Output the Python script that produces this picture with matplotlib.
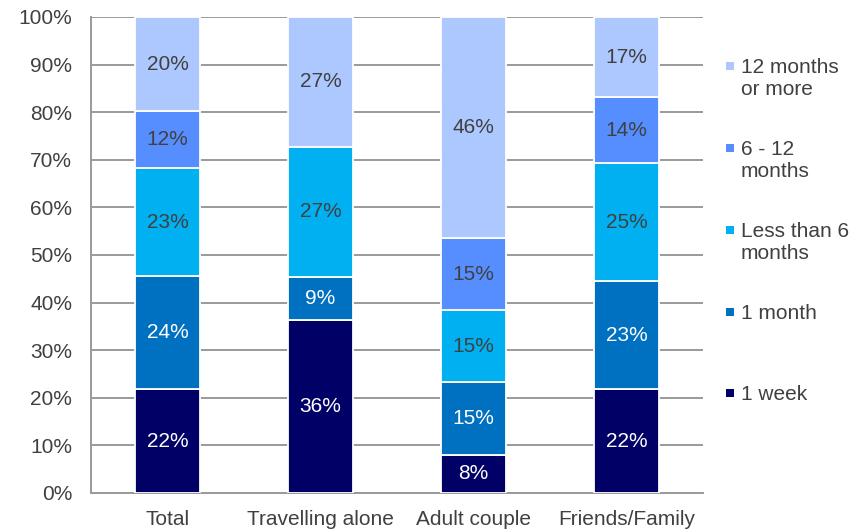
import matplotlib
matplotlib.use("Agg")
import matplotlib.pyplot as plt
from matplotlib.patches import Rectangle
import numpy as np

plt.rcParams['font.family'] = ['Liberation Sans', 'DejaVu Sans']

categories = ["Total", "Travelling alone", "Adult couple", "Friends/Family"]
series_names = ["1 week", "1 month", "Less than 6 months", "6 - 12 months", "12 months or more"]
legend_labels = ["1 week", "1 month", "Less than 6\nmonths", "6 - 12\nmonths", "12 months\nor more"]
week1 = [22, 36, 8, 22]
month1 = [24, 9, 15, 23]
less6 = [23, 27, 15, 25]
m6_12 = [12, 0, 15, 14]
m12plus = [20, 27, 46, 17]

colors = ["#000066", "#0070C0", "#00B0F0", "#578EFF", "#ADC8FF"]
text_colors = ["white", "white", "#404040", "#404040", "#404040"]

data = np.array([week1, month1, less6, m6_12, m12plus], dtype=float)
totals = data.sum(axis=0)
shares = data / totals * 100

FS = 15
W, H = 863, 531
fig = plt.figure(figsize=(W / 100, H / 100), dpi=100)
ax = fig.add_axes([91 / W, 1 - 493 / H, (703 - 91) / W, (493 - 17) / H])

x = np.arange(len(categories))
bottom = np.zeros(len(categories))
for i in range(len(series_names)):
    ax.bar(x, shares[i], bottom=bottom, width=0.42, color=colors[i],
           edgecolor="white", linewidth=1.3, zorder=3)
    for j in range(len(categories)):
        if data[i, j] > 0:
            ax.text(x[j], bottom[j] + shares[i, j] / 2, f"{int(data[i, j])}%",
                    ha="center", va="center", fontsize=FS, color=text_colors[i], zorder=4)
    bottom += shares[i]

ax.set_xlim(-0.5, 3.5)
ax.set_ylim(0, 100)
ax.set_yticks(np.arange(0, 101, 10))
ax.set_yticklabels([f"{v}%" for v in range(0, 101, 10)])
ax.set_xticks(x)
ax.set_xticklabels(categories)
ax.tick_params(axis="both", length=0, labelsize=FS, colors="#404040")
ax.tick_params(axis="y", pad=13.5)
ax.tick_params(axis="x", pad=12)
ax.grid(axis="y", color="#9a9a9a", linewidth=1.4, zorder=0)
ax.set_axisbelow(True)
for s in ["top", "right"]:
    ax.spines[s].set_visible(False)
for s in ["left", "bottom"]:
    ax.spines[s].set_color("#9a9a9a")
    ax.spines[s].set_linewidth(1.4)

# manual legend (reverse order, top to bottom)
tops = [66, 148, 230, 312, 393]
order = list(range(len(series_names)))[::-1]
for k, i in enumerate(order):
    yc = tops[k]
    fig.patches.append(Rectangle((726 / W, 1 - (yc + 4) / H), 8 / W, 8 / H,
                                 transform=fig.transFigure, facecolor=colors[i],
                                 edgecolor="none"))
    fig.text(741 / W, 1 - (yc - 8) / H, legend_labels[i], ha="left", va="top",
             fontsize=FS, color="#404040", linespacing=1.2)

fig.savefig("out.png", dpi=100, facecolor="white")
